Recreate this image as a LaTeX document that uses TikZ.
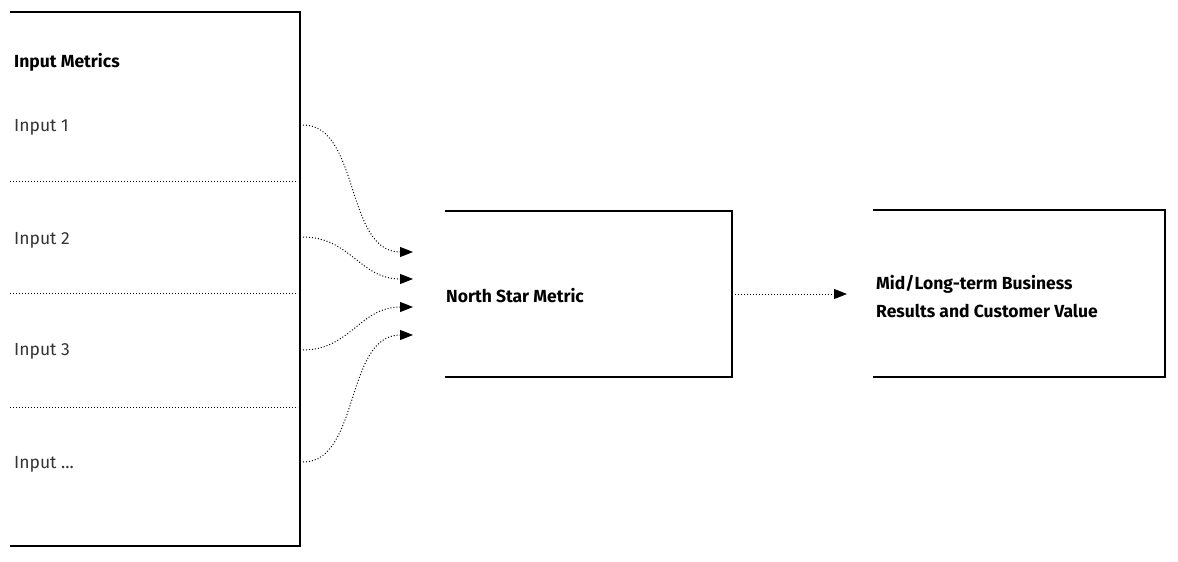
\documentclass[tikz,border=0pt]{standalone}
\usepackage{fontspec}
\setmainfont{Fira Sans}
\usetikzlibrary{arrows.meta}
\begin{document}
\begin{tikzpicture}[x=1pt,y=-1pt,
  frame/.style={line width=1.8pt},
  sep/.style={dotted,line width=1pt},
  conn/.style={dotted,line width=1pt,-{Triangle[length=13pt,width=10pt]}},
  lbl/.style={anchor=west,font=\fontsize{17.5}{20}\selectfont,text=black!80,inner sep=0pt},
  blbl/.style={anchor=west,font=\fontsize{17.5}{28}\selectfont\bfseries,inner sep=0pt,align=left}]
\useasboundingbox (0,0) rectangle (1178,562);
\draw[frame] (10,12) -- (300,12) -- (300,546) -- (10,546);
\draw[frame] (445,211) -- (732,211) -- (732,377) -- (445,377);
\draw[frame] (873,210) -- (1165,210) -- (1165,377) -- (873,377);
\node[blbl] (t) at (14,62) {Input Metrics};
\node[lbl] (i1) at (14,127) {Input 1};
\node[lbl] (i2) at (14,240) {Input 2};
\node[lbl] (i3) at (14,351) {Input 3};
\node[lbl] (i4) at (14,464) {Input ...};
\draw[sep] (10,181) -- (298,181);
\draw[sep] (10,293) -- (298,293);
\draw[sep] (10,407) -- (298,407);
\coordinate (s1) at (303,125);
\coordinate (s2) at (303,237);
\coordinate (s3) at (303,350);
\coordinate (s4) at (303,462);
\coordinate (e1) at (413,252);
\coordinate (e2) at (413,279);
\coordinate (e3) at (413,307);
\coordinate (e4) at (413,335);
\draw[conn] (s1) .. controls (360,125) and (345,252) .. (e1);
\draw[conn] (s2) .. controls (350,237) and (360,279) .. (e2);
\draw[conn] (s3) .. controls (350,350) and (360,307) .. (e3);
\draw[conn] (s4) .. controls (360,462) and (345,335) .. (e4);
\node[blbl] (ns) at (446,296) {North Star Metric};
\node[blbl] (mr) at (876,297) {Mid/Long-term Business\\Results and Customer Value};
\coordinate (a) at (735,294);
\coordinate (b) at (847,294);
\draw[conn] (a) -- (b);
\end{tikzpicture}
\end{document}
